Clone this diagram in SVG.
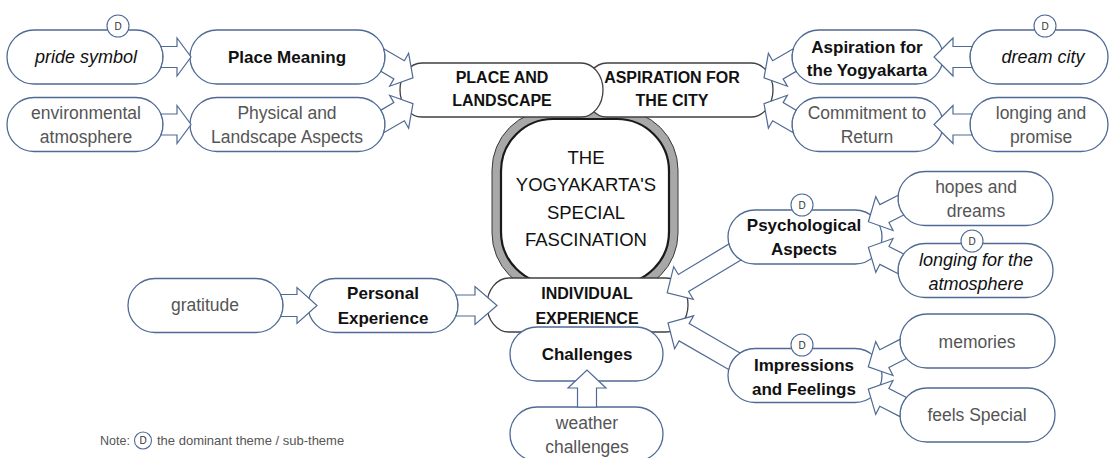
<svg xmlns="http://www.w3.org/2000/svg" width="1116" height="458" viewBox="0 0 1116 458">
<style>
text{font-family:"Liberation Sans",Arial,sans-serif;text-anchor:middle}
.n rect{fill:#fff;stroke:#4f6a94;stroke-width:1.3}
.m rect{fill:#fff;stroke:#404040;stroke-width:1.3}
.b{font-weight:bold;font-size:17px;fill:#111}
.r{font-size:17.5px;fill:#555}
.i{font-style:italic;font-size:18px;fill:#111}
.mt{font-weight:bold;font-size:16px;fill:#111}
.ct{font-size:18.5px;fill:#111}
.dc{fill:#fff;stroke:#4f6a94;stroke-width:1.1}
.dt{font-size:10px;fill:#333}
#connectors path{fill:#fff;stroke:#4f6a94;stroke-width:1.2;stroke-linejoin:miter}
.note{font-size:12.5px;fill:#555;text-anchor:start}
</style>

<g id="center">
  <rect x="492" y="110" width="186" height="183" rx="60" ry="60" fill="#a8a8a8" stroke="#3a3a3a" stroke-width="1"/>
  <rect x="501" y="119" width="168" height="165" rx="52" ry="52" fill="#fff" stroke="#1a1a1a" stroke-width="2.2"/>
  <text class="ct" x="586" y="164">THE</text>
  <text class="ct" x="586" y="191">YOGYAKARTA'S</text>
  <text class="ct" x="586" y="218.5">SPECIAL</text>
  <text class="ct" x="586" y="246">FASCINATION</text>
</g>

<g id="aspiration-city" class="m">
  <rect x="585" y="63" width="188" height="54" rx="22" ry="27"/>
  <text class="mt" x="672" y="83">ASPIRATION FOR</text>
  <text class="mt" x="672" y="106">THE CITY</text>
</g>
<g id="place-landscape" class="m">
  <rect x="400" y="63" width="203" height="54" rx="22" ry="27"/>
  <text class="mt" x="502" y="83">PLACE AND</text>
  <text class="mt" x="502" y="106">LANDSCAPE</text>
</g>
<g id="individual-experience" class="m">
  <rect x="487" y="278" width="201" height="54" rx="22" ry="27"/>
  <text class="mt" x="587" y="299">INDIVIDUAL</text>
  <text class="mt" x="587" y="324">EXPERIENCE</text>
</g>

<g id="pride-symbol" class="n">
  <rect x="7" y="30" width="156" height="54" rx="27"/>
  <text class="i" x="86" y="63">pride symbol</text>
  <circle class="dc" cx="118" cy="26" r="11"/>
  <text class="dt" x="118" y="29.5">D</text>
</g>
<g id="place-meaning" class="n">
  <rect x="190" y="30" width="195" height="54" rx="27"/>
  <text class="b" x="287" y="63">Place Meaning</text>
</g>
<g id="environmental-atmosphere" class="n">
  <rect x="7" y="97.5" width="156" height="54" rx="27"/>
  <text class="r" x="86" y="118.5">environmental</text>
  <text class="r" x="86" y="142.5">atmosphere</text>
</g>
<g id="physical-landscape" class="n">
  <rect x="190" y="97.5" width="195" height="54" rx="27"/>
  <text class="r" x="287" y="118.5">Physical and</text>
  <text class="r" x="287" y="142.5">Landscape Aspects</text>
</g>

<g id="aspiration-yogyakarta" class="n">
  <rect x="792" y="30" width="151" height="54" rx="27"/>
  <text class="b" x="867" y="53">Aspiration for</text>
  <text class="b" x="867" y="76">the Yogyakarta</text>
</g>
<g id="dream-city" class="n">
  <rect x="970" y="30" width="138" height="54" rx="27"/>
  <text class="i" x="1043" y="63">dream city</text>
  <circle class="dc" cx="1045" cy="26" r="11"/>
  <text class="dt" x="1045" y="29.5">D</text>
</g>
<g id="commitment-return" class="n">
  <rect x="792" y="97.5" width="151" height="54" rx="27"/>
  <text class="r" x="867" y="118.5">Commitment to</text>
  <text class="r" x="867" y="142.5">Return</text>
</g>
<g id="longing-promise" class="n">
  <rect x="970" y="97.5" width="138" height="54" rx="27"/>
  <text class="r" x="1041" y="118.5">longing and</text>
  <text class="r" x="1041" y="142.5">promise</text>
</g>

<g id="psychological-aspects" class="n">
  <rect x="728" y="210" width="154" height="54" rx="27"/>
  <text class="b" x="804" y="231">Psychological</text>
  <text class="b" x="804" y="255">Aspects</text>
  <circle class="dc" cx="802" cy="205" r="11"/>
  <text class="dt" x="802" y="208.5">D</text>
</g>
<g id="hopes-dreams" class="n">
  <rect x="898" y="171.5" width="155" height="54" rx="27"/>
  <text class="r" x="976" y="192.5">hopes and</text>
  <text class="r" x="976" y="216.5">dreams</text>
</g>
<g id="longing-atmosphere" class="n">
  <rect x="898" y="243.5" width="155" height="54" rx="27"/>
  <text class="i" x="976" y="265.5">longing for the</text>
  <text class="i" x="976" y="289.5">atmosphere</text>
  <circle class="dc" cx="972" cy="241" r="11"/>
  <text class="dt" x="972" y="244.5">D</text>
</g>

<g id="impressions-feelings" class="n">
  <rect x="728" y="348.5" width="154" height="54" rx="27"/>
  <text class="b" x="804" y="371">Impressions</text>
  <text class="b" x="804" y="395">and Feelings</text>
  <circle class="dc" cx="802" cy="345" r="11"/>
  <text class="dt" x="802" y="348.5">D</text>
</g>
<g id="memories" class="n">
  <rect x="900" y="314" width="155" height="54" rx="27"/>
  <text class="r" x="977" y="348">memories</text>
</g>
<g id="feels-special" class="n">
  <rect x="900" y="388" width="155" height="54" rx="27"/>
  <text class="r" x="977" y="421">feels Special</text>
</g>

<g id="gratitude" class="n">
  <rect x="128" y="278.5" width="155" height="54" rx="27"/>
  <text class="r" x="205" y="311">gratitude</text>
</g>
<g id="personal-experience" class="n">
  <rect x="308" y="278.5" width="150" height="54" rx="27"/>
  <text class="b" x="383" y="299">Personal</text>
  <text class="b" x="383" y="324">Experience</text>
</g>
<g id="challenges" class="n">
  <rect x="510" y="327" width="153" height="54" rx="27"/>
  <text class="b" x="587" y="360">Challenges</text>
</g>
<g id="weather-challenges" class="n">
  <rect x="510" y="407" width="153" height="54" rx="27"/>
  <text class="r" x="587" y="429">weather</text>
  <text class="r" x="587" y="453">challenges</text>
</g>

<g id="connectors">
  <path transform="translate(136,57)" d="M24.9,-10.5 H41 V-19 L55,0 L41,19 V10.5 H24.9 A27,27 0 0 0 24.9,-10.5 Z"/>
  <path transform="translate(136,124.5)" d="M24.9,-10.5 H41 V-19 L55,0 L41,19 V10.5 H24.9 A27,27 0 0 0 24.9,-10.5 Z"/>
  <path transform="translate(997,57) rotate(180)" d="M24.9,-10.5 H44 V-19 L63,0 L44,19 V10.5 H24.9 A27,27 0 0 0 24.9,-10.5 Z"/>
  <path transform="translate(997,124.5) rotate(180)" d="M24.9,-10.5 H44 V-19 L63,0 L44,19 V10.5 H24.9 A27,27 0 0 0 24.9,-10.5 Z"/>
  <path transform="translate(256,305.5)" d="M24.7,-11 H41 V-18 L61,0 L41,18 V11 H24.7 A27,27 0 0 0 24.7,-11 Z"/>
  <path transform="translate(431,305.5)" d="M24.9,-10.5 H44 V-19 L66,0 L44,19 V10.5 H24.9 A27,27 0 0 0 24.9,-10.5 Z"/>
  <path transform="translate(358,57) rotate(30)" d="M18.1,-20 H42 V-28.5 L58,-9.5 L42,9.5 V1 H27 A27,27 0 0 0 18.1,-20 Z"/>
  <path transform="translate(358,124.5) rotate(-30)" d="M27,-1 H42 V-9.5 L58,9.5 L42,28.5 V20 H18.1 A27,27 0 0 0 27,-1 Z"/>
  <path transform="translate(819,57) rotate(150)" d="M27,-1 H42 V-9.5 L58,9.5 L42,28.5 V20 H18.1 A27,27 0 0 0 27,-1 Z"/>
  <path transform="translate(819,124.5) rotate(210)" d="M18.1,-20 H42 V-28.5 L58,-9.5 L42,9.5 V1 H27 A27,27 0 0 0 18.1,-20 Z"/>
  <path transform="translate(925,198.5) rotate(153)" d="M26.5,-5 H43 V-14 L61,5 L43,24 V15 H22.4 A27,27 0 0 0 26.5,-5 Z"/>
  <path transform="translate(925,270.5) rotate(207)" d="M22.4,-15 H43 V-24 L61,-5 L43,14 V5 H26.5 A27,27 0 0 0 22.4,-15 Z"/>
  <path transform="translate(927,341) rotate(153)" d="M26.3,-6.3 H46 V-15.3 L64,3.7 L46,22.7 V13.7 H23.3 A27,27 0 0 0 26.3,-6.3 Z"/>
  <path transform="translate(927,415) rotate(207)" d="M23.3,-13.7 H46 V-22.7 L64,-3.7 L46,15.3 V6.3 H26.3 A27,27 0 0 0 23.3,-13.7 Z"/>
  <path transform="translate(755,237) rotate(149)" d="M23.9,-12.6 H85 V-21.6 L104,-2.6 L85,16.4 V7.4 H26 A27,27 0 0 0 23.9,-12.6 Z"/>
  <path transform="translate(755,375.5) rotate(210)" d="M25.8,-8 H83 V-17 L101.6,2 L83,21 V12 H24.2 A27,27 0 0 0 25.8,-8 Z"/>
  <path d="M577.5,407 V388 H568 L587,370 L606,388 H596.5 V407 Z"/>
</g>

<g id="note">
  <text class="note" x="100" y="445">Note:</text>
  <circle class="dc" cx="143" cy="440.5" r="8.5"/>
  <text class="dt" x="143" y="444">D</text>
  <text class="note" x="157" y="445" style="font-size:13px">the dominant theme / sub-theme</text>
</g>
</svg>
